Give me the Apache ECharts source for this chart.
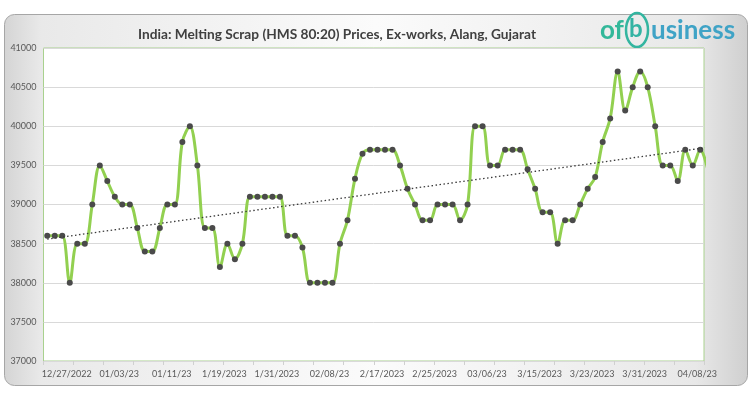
<!DOCTYPE html>
<html><head><meta charset="utf-8">
<script src="https://cdn.jsdelivr.net/npm/echarts@6/dist/echarts.min.js"></script>
<style>html,body{margin:0;padding:0;background:#fff}#c{width:752px;height:396px}</style>
</head><body><div id="c"></div>
<script>
const titleText = 'India: Melting Scrap (HMS 80:20) Prices, Ex-works, Alang, Gujarat';
const prices = [
  38600, 38600, 38600, 38000, 38500, 38500, 39000, 39500, 39300, 39100,
  39000, 39000, 38700, 38400, 38400, 38700, 39000, 39000, 39800, 40000,
  39500, 38700, 38700, 38200, 38500, 38300, 38500, 39100, 39100, 39100,
  39100, 39100, 38600, 38600, 38450, 38000, 38000, 38000, 38000, 38500,
  38800, 39330, 39650, 39700, 39700, 39700, 39700, 39500, 39200, 39000,
  38800, 38800, 39000, 39000, 39000, 38800, 39000, 40000, 40000, 39500,
  39500, 39700, 39700, 39700, 39450, 39200, 38900, 38900, 38500, 38800,
  38800, 39000, 39200, 39350, 39800, 40100, 40700, 40200, 40500, 40700,
  40500, 40000, 39500, 39500, 39300, 39700, 39500, 39700, 39450
];
const xLabels = ['12/27/2022','01/03/23','01/11/23','1/19/2023','1/31/2023','02/08/23','2/17/2023','2/25/2023','03/06/23','3/15/2023','3/23/2023','3/31/2023','04/08/23'];
const yMin = 37000, yMax = 41000, yStep = 500;
const visibleCount = 88;
const labelFirst = 2.6, labelEvery = 7;
const tickFirst = -0.5, tickEvery = 4;

const labelPos = xLabels.map((_, k) => labelFirst + k * labelEvery);
const tickPos = [];
for (let t = tickFirst; t <= visibleCount - 0.5 + 1e-9; t += tickEvery) tickPos.push(t);

// linear trendline (least squares over the series)
const n = prices.length;
let sx = 0, sy = 0, sxx = 0, sxy = 0;
prices.forEach((v, i) => { sx += i; sy += v; sxx += i * i; sxy += i * v; });
const slope = (n * sxy - sx * sy) / (n * sxx - sx * sx);
const icpt = (sy - slope * sx) / n;
const trend = [[0, icpt], [n - 1, icpt + slope * (n - 1)]];

const chart = echarts.init(document.getElementById('c'), null, {renderer: 'canvas'});
const font = 'Lato, "Open Sans", sans-serif';
chart.setOption({
  animation: false,
  backgroundColor: '#ffffff',
  graphic: [
    {type: 'rect', z: -10, shape: {x: 4.5, y: 14.5, width: 743, height: 371, r: 10},
     style: {fill: {type: 'linear', x: 0, y: 0, x2: 1, y2: 0, colorStops: [
       {offset: 0, color: '#d4d4d4'}, {offset: 0.05, color: '#e9e9e9'}, {offset: 0.5, color: '#fbfbfb'},
       {offset: 0.93, color: '#e8e8e8'}, {offset: 1, color: '#cfcfcf'}]},
       stroke: '#a6a6a6', lineWidth: 1}},
    {type: 'text', x: 337, y: 35, style: {text: titleText, font: 'bold 13.7px ' + font, fill: '#404040', align: 'center', verticalAlign: 'middle'}},
    {type: 'text', x: 600, y: 18, style: {text: 'of', font: 'bold 26px ' + font, fill: '#33b89a'}},
    {type: 'ellipse', shape: {cx: 637, cy: 30, rx: 11, ry: 17}, style: {fill: 'none', stroke: '#33b5a0', lineWidth: 2.5}},
    {type: 'text', x: 629, y: 17, style: {text: 'b', font: 'bold 24px ' + font, fill: '#33b3a3'}},
    {type: 'text', x: 651, y: 18, style: {text: 'usiness', font: 'bold 26px ' + font, fill: '#3fa3c6'}}
  ],
  grid: {left: 43.5, right: 48, top: 48, bottom: 35, show: true, borderColor: '#a9d18e', borderWidth: 1, backgroundColor: '#ffffff'},
  xAxis: {
    type: 'value', min: -0.5, max: visibleCount - 0.5,
    splitLine: {show: false}, axisLine: {show: false},
    axisTick: {show: true, customValues: tickPos, length: 4, lineStyle: {color: '#d0d0d0'}},
    axisLabel: {customValues: labelPos, color: '#595959', fontSize: 9, fontFamily: font, margin: 9,
      formatter: v => xLabels[Math.round((v - labelFirst) / labelEvery)] || ''}
  },
  yAxis: {
    type: 'value', min: yMin, max: yMax, interval: yStep,
    axisLine: {show: false}, axisTick: {show: false},
    splitLine: {lineStyle: {color: '#d9d9d9', width: 1}},
    axisLabel: {color: '#595959', fontSize: 9, fontFamily: font, margin: 7, formatter: v => String(v)}
  },
  series: [
    {type: 'line', data: prices.map((v, i) => [i, v]), smooth: 0.35, clip: true,
     lineStyle: {color: '#92d050', width: 3}, symbol: 'circle', symbolSize: 6,
     itemStyle: {color: '#4a4a4a'}, z: 3},
    {type: 'line', data: trend, clip: true, symbol: 'none',
     lineStyle: {color: '#3a3a3a', width: 1.3, type: [1.5, 2.5]}, z: 4}
  ]
});
</script></body></html>
